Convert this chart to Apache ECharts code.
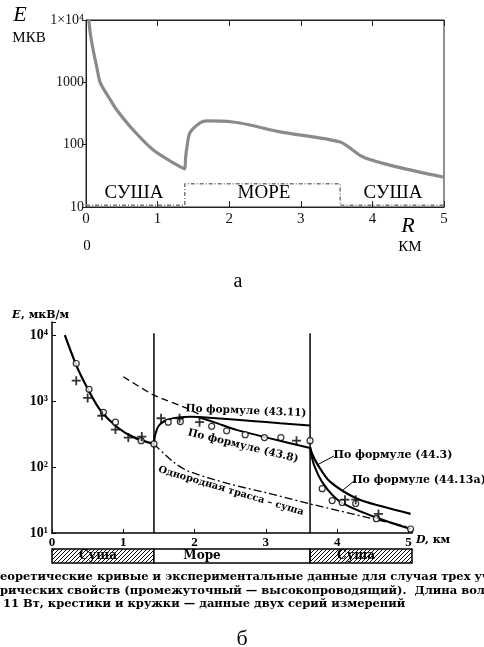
<!DOCTYPE html>
<html>
<head>
<meta charset="utf-8">
<script src="https://cdn.jsdelivr.net/npm/echarts@6/dist/echarts.min.js"></script>
<style>
  html, body { margin: 0; padding: 0; background: #fff; }
  #chart { width: 484px; height: 647px; }
</style>
</head>
<body>
<div id="chart"></div>
<script>
  // ---- рисунок а (расчёт) ----
  var topCurve = [[0.04, 10000], [0.06, 6150], [0.1, 3300], [0.15, 1770], [0.2, 980], [0.34, 525], [0.43, 361],
    [0.66, 172], [0.94, 82], [1.22, 51], [1.38, 41], [1.39, 60], [1.41, 92], [1.45, 154], [1.59, 223],
    [1.69, 240], [2.05, 231], [2.29, 207], [2.71, 160], [3.55, 110], [3.87, 63.5], [4.34, 44], [5.0, 30]];
  var topZones = [[0, 10.7], [1.38, 10.7], [1.38, 23.5], [3.55, 23.5], [3.55, 10.7], [5, 10.7]];

  // ---- рисунок б (эксперимент) ----
  var landCurve = [[0.18, 10000], [0.35, 3310], [0.51, 1480], [0.68, 724], [0.92, 398], [1.15, 282], [1.43, 224]];
  var landOnly = [[1.43, 224], [1.7, 120], [1.91, 87], [2.5, 55], [3.0, 41], [3.66, 27], [5.0, 12.3]];
  var f4311Dash = [[1.0, 2340], [1.43, 1230], [1.9, 776], [2.1, 600]];
  var f4311 = [[1.43, 224], [1.45, 316], [1.5, 427], [1.6, 513], [1.75, 562], [1.95, 582], [2.3, 550],
    [2.8, 501], [3.2, 462], [3.62, 427]];
  var f438 = [[2.05, 575], [2.3, 468], [2.6, 363], [3.0, 282], [3.62, 195]];
  var f443 = [[3.62, 200], [3.65, 158], [3.72, 112], [3.9, 60], [4.28, 33], [4.65, 25], [5.03, 19.5]];
  var f4413a = [[3.62, 200], [3.67, 112], [3.81, 55], [4.04, 30], [4.51, 17.8], [5.03, 11.5]];
  var circles = [[0.34, 3720], [0.52, 1510], [0.72, 676], [0.89, 480], [1.25, 251], [1.43, 224], [1.63, 480],
    [1.8, 490], [2.24, 415], [2.45, 355], [2.71, 309], [2.98, 280], [3.21, 280], [3.62, 251], [3.79, 47],
    [3.93, 31], [4.07, 29], [4.26, 28], [4.55, 16.5], [5.03, 11.5]];
  var crosses = [[0.34, 2040], [0.5, 1120], [0.7, 600], [0.89, 370], [1.07, 280], [1.26, 290], [1.53, 550],
    [1.79, 550], [2.07, 480], [3.43, 251], [4.11, 32], [4.26, 32], [4.58, 19.5]];
  var borderSea1 = [[1.43, 10], [1.43, 10700]];
  var borderSea2 = [[3.62, 10], [3.62, 10700]];
  var stripSegments = [[0, 1.43, 'Суша'], [1.43, 3.62, 'Море'], [3.62, 5.05, 'Суша']];
  var powLabels = { 1: '10¹', 2: '10²', 3: '10³', 4: '10⁴' };

  var serif = '"Liberation Serif", "DejaVu Serif", serif';
  var wide = '"DejaVu Serif", serif';

  // штриховка для суши
  var hatch = document.createElement('canvas');
  hatch.width = 4; hatch.height = 4;
  var hc = hatch.getContext('2d');
  hc.strokeStyle = '#000';
  hc.lineWidth = 1;
  hc.beginPath();
  hc.moveTo(0, 4); hc.lineTo(4, 0);
  hc.moveTo(-1, 1); hc.lineTo(1, -1);
  hc.moveTo(3, 5); hc.lineTo(5, 3);
  hc.stroke();

  var chart = echarts.init(document.getElementById('chart'));

  var plus = 'path://M4,0H6V4H10V6H6V10H4V6H0V4H4Z';

  function lineSeries(data, xi, yi, color, width, type, smooth) {
    return {
      type: 'line', data: data, xAxisIndex: xi, yAxisIndex: yi, symbol: 'none',
      smooth: smooth, lineStyle: { color: color, width: width, type: type }, z: 3
    };
  }

  function label(x, y, text, font, rot, align) {
    return {
      type: 'text', x: x, y: y, rotation: rot || 0,
      style: { text: text, font: font, fill: '#000', textAlign: align || 'center', textVerticalAlign: 'middle' }
    };
  }

  chart.setOption({
    animation: false,
    backgroundColor: '#fff',
    grid: [
      { left: 86, top: 20, width: 358, height: 187, show: true, borderColor: '#222', borderWidth: 1 },
      { left: 52, top: 322, width: 360, height: 211 },
      { left: 52, top: 549, width: 360, height: 14 }
    ],
    xAxis: [
      {
        gridIndex: 0, type: 'value', min: 0, max: 5, interval: 1,
        axisLine: { lineStyle: { color: '#222', width: 1 } },
        axisTick: { inside: true, length: 6, lineStyle: { color: '#222' } },
        axisLabel: { margin: 5, fontFamily: serif, fontSize: 15, color: '#111' },
        splitLine: { show: false }
      },
      {
        gridIndex: 0, type: 'value', position: 'top', min: 0, max: 5, interval: 1,
        axisLine: { lineStyle: { color: '#222', width: 1 } },
        axisTick: { inside: true, length: 6, lineStyle: { color: '#222' } },
        axisLabel: { show: false }, splitLine: { show: false }
      },
      {
        gridIndex: 1, type: 'value', min: 0, max: 5.05, interval: 1,
        axisLine: { lineStyle: { color: '#000', width: 1.5 } },
        axisTick: { inside: true, length: 4, lineStyle: { color: '#000' } },
        axisLabel: {
          margin: 3, fontFamily: serif, fontWeight: 'bold', fontSize: 13, color: '#000',
          formatter: function (v) { return Number.isInteger(v) ? String(v) : ''; }
        },
        splitLine: { show: false }
      },
      { gridIndex: 2, type: 'value', min: 0, max: 5.05, show: false }
    ],
    yAxis: [
      {
        gridIndex: 0, type: 'log', logBase: 10, min: 10, max: 10000,
        axisLine: { lineStyle: { color: '#222', width: 1 } },
        axisTick: { length: 4, lineStyle: { color: '#222' } },
        axisLabel: {
          margin: 2, fontFamily: serif, fontSize: 14, color: '#111',
          formatter: function (v) { return Math.round(v) === 10000 ? '1×10⁴' : String(Math.round(v)); }
        },
        splitLine: { show: false }
      },
      {
        gridIndex: 1, type: 'log', logBase: 10, min: 10, max: 15849,
        axisLine: { lineStyle: { color: '#000', width: 1.5 } },
        axisTick: { inside: true, length: 4, lineStyle: { color: '#000' } },
        axisLabel: {
          margin: 4, fontFamily: serif, fontWeight: 'bold', fontSize: 14, color: '#000',
          formatter: function (v) { return powLabels[Math.round(Math.log10(v) * 100) / 100] || ''; }
        },
        splitLine: { show: false }
      },
      { gridIndex: 2, type: 'value', min: 0, max: 1, show: false }
    ],
    series: [
      lineSeries(topZones, 0, 0, '#777', 1.5, [4, 2, 1, 2], false),
      lineSeries(topCurve, 0, 0, '#8a8a8a', 3.2, 'solid', 0.25),

      lineSeries(borderSea1, 2, 1, '#000', 1.5, 'solid', false),
      lineSeries(borderSea2, 2, 1, '#000', 1.5, 'solid', false),
      lineSeries(landCurve, 2, 1, '#000', 2.2, 'solid', 0.3),
      lineSeries(landOnly, 2, 1, '#000', 1.3, [8, 3, 2, 3], 0.3),
      lineSeries(f4311Dash, 2, 1, '#000', 1.3, [7, 4], 0.2),
      lineSeries(f4311, 2, 1, '#000', 2, 'solid', 0.3),
      lineSeries(f438, 2, 1, '#000', 2, 'solid', 0.2),
      lineSeries(f443, 2, 1, '#000', 2.2, 'solid', 0.3),
      lineSeries(f4413a, 2, 1, '#000', 2, 'solid', 0.3),
      {
        type: 'scatter', data: circles, xAxisIndex: 2, yAxisIndex: 1, symbol: 'circle', symbolSize: 6,
        itemStyle: { color: '#fff', borderColor: '#000', borderWidth: 1.2 }, z: 4
      },
      {
        type: 'scatter', data: crosses, xAxisIndex: 2, yAxisIndex: 1, symbol: plus, symbolSize: 9,
        itemStyle: { color: '#000' }, z: 4
      },
      {
        type: 'custom', data: stripSegments.map(function (s) { return [s[0], s[1]]; }),
        xAxisIndex: 3, yAxisIndex: 2,
        renderItem: function (params, api) {
          var p0 = api.coord([api.value(0), 1]);
          var p1 = api.coord([api.value(1), 0]);
          var name = stripSegments[params.dataIndex][2];
          var land = name === 'Суша';
          return {
            type: 'group',
            children: [
              {
                type: 'rect',
                shape: { x: p0[0], y: p0[1], width: p1[0] - p0[0], height: p1[1] - p0[1] },
                style: { fill: land ? { image: hatch, repeat: 'repeat' } : '#fff', stroke: '#000', lineWidth: 1.5 }
              },
              {
                type: 'text',
                x: (p0[0] + p1[0]) / 2 - (land ? 5 : 30), y: (p0[1] + p1[1]) / 2,
                style: {
                  text: name, font: 'bold 12px ' + wide, fill: '#000',
                  textAlign: 'center', textVerticalAlign: 'middle'
                }
              }
            ]
          };
        }
      }
    ],
    graphic: [
      // подписи рисунка а
      label(20, 15, 'E', 'italic 22px ' + serif),
      label(29, 38, 'МКВ', '15px ' + serif),
      label(134, 193, 'СУША', '19px ' + serif),
      label(264, 193, 'МОРЕ', '19px ' + serif),
      label(393, 193, 'СУША', '19px ' + serif),
      label(87, 246, '0', '15px ' + serif),
      label(408, 226, 'R', 'italic 22px ' + serif),
      label(410, 247, 'КМ', '15px ' + serif),
      label(238, 282, 'а', '20px ' + serif),

      // подписи рисунка б
      label(12, 315, 'E', 'italic bold 11px ' + wide, 0, 'left'),
      label(21, 315, ', мкВ/м', 'bold 11px ' + wide, 0, 'left'),
      label(416, 540, 'D', 'italic bold 11px ' + wide, 0, 'left'),
      label(425, 540, ', км', 'bold 11px ' + wide, 0, 'left'),
      label(246, 411, 'По формуле (43.11)', 'bold 10.5px ' + wide, -0.04),
      label(243, 446, 'По формуле (43.8)', 'bold 10.5px ' + wide, -0.24),
      label(231, 491, 'Однородная трасса – суша', 'bold 9.8px ' + wide, -0.29),
      label(393, 455, 'По формуле (44.3)', 'bold 11px ' + wide),
      label(419, 480, 'По формуле (44.13а)', 'bold 11px ' + wide),
      { type: 'line', shape: { x1: 317, y1: 465, x2: 334, y2: 456 }, style: { stroke: '#000', lineWidth: 1 } },
      { type: 'line', shape: { x1: 343, y1: 490, x2: 354, y2: 481 }, style: { stroke: '#000', lineWidth: 1 } },

      // подпись к рисунку
      label(0, 577, 'еоретические кривые и экспериментальные данные для случая трех уча', 'bold 11.5px ' + wide, 0, 'left'),
      label(0, 591, 'рических свойств (промежуточный — высокопроводящий).  Длина вол', 'bold 11.5px ' + wide, 0, 'left'),
      label(3, 604, '11 Вт, крестики и кружки — данные двух серий измерений', 'bold 11.5px ' + wide, 0, 'left'),
      label(242, 639, 'б', '22px ' + serif)
    ]
  });
</script>
</body>
</html>
